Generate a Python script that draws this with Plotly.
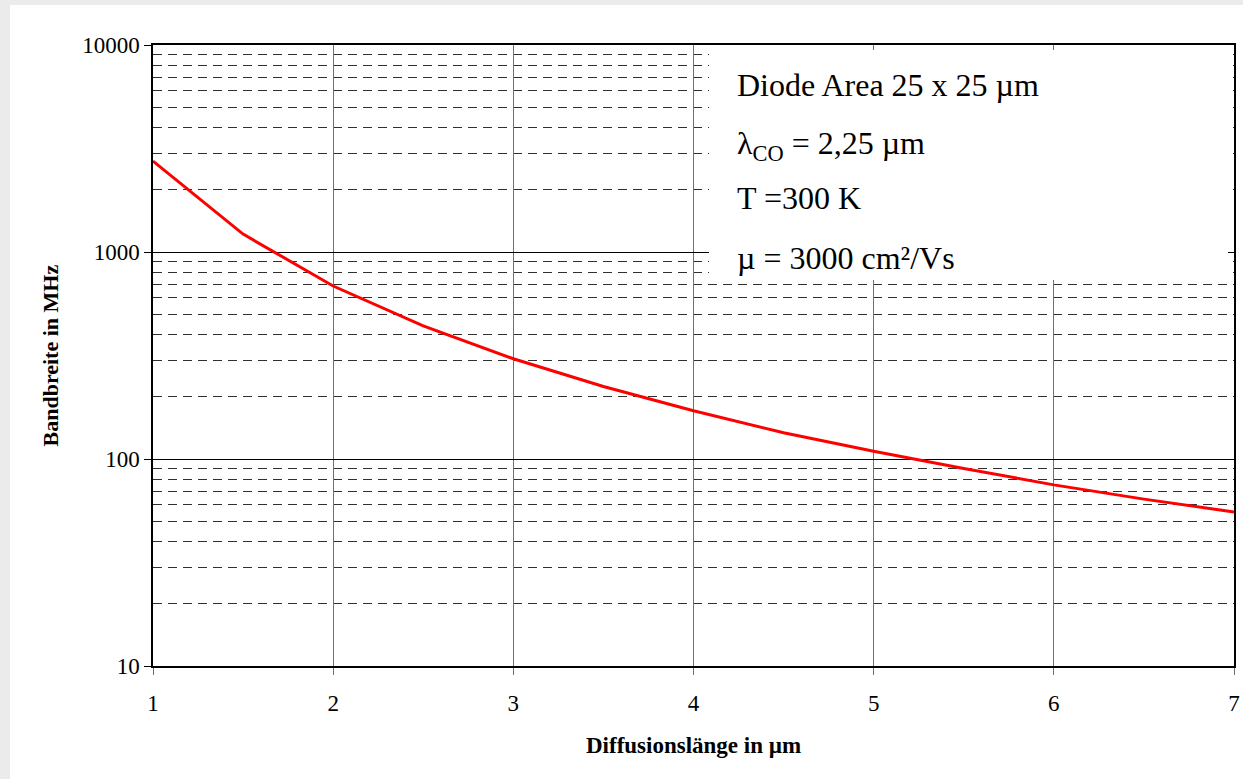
import plotly.graph_objects as go

# Data
diffusion_length = [1, 1.5, 2, 2.5, 3, 3.5, 4, 4.5, 5, 5.5, 6, 6.5, 7]
bandwidth_mhz = [2750, 1220, 685, 440, 305, 224, 171, 134, 109, 90, 75, 64, 55.5]

x_ticks = [1, 2, 3, 4, 5, 6, 7]
y_ticks = [10, 100, 1000, 10000]
y_tick_text = ["10", "100", "1000", "10000"]
y_minor = [m * d for d in (10, 100, 1000) for m in range(2, 10)]

x_title = "Diffusionslänge in µm"
y_title = "Bandbreite in MHz"
info_lines = [
    "Diode Area 25 x 25 µm",
    "λ<sub>CO</sub> = 2,25 µm",
    "T =300 K",
    "µ = 3000 cm²/Vs",
]

FONT = "Liberation Serif"

W, H = 1243, 779
L, R, T, B = 153, 1234, 45, 666


def px(xp):
    return (xp - L) / (R - L)


def py(yp):
    return (B - yp) / (B - T)


fig = go.Figure()
fig.add_trace(go.Scatter(
    x=diffusion_length, y=bandwidth_mhz, mode="lines",
    line=dict(color="#ff0000", width=3), showlegend=False,
))

fig.update_layout(
    width=W, height=H, autosize=False,
    margin=dict(l=L, r=W - R, t=T, b=H - B, pad=0, autoexpand=False),
    paper_bgcolor="#ebebeb",
    plot_bgcolor="white",
    font=dict(family=FONT, color="black", size=23),
    showlegend=False,
)

fig.update_xaxes(
    range=[1, 7], tickvals=x_ticks, automargin=False,
    showgrid=True, gridcolor="#707070", gridwidth=1,
    showline=True, linecolor="black", linewidth=1.5, mirror=True,
    ticks="outside", ticklen=7, tickcolor="#707070", tickwidth=1,
    tickfont=dict(family=FONT, size=23), ticklabelstandoff=9,
    zeroline=False,
)
fig.update_yaxes(
    type="log", range=[1, 4], tickvals=y_ticks, ticktext=y_tick_text,
    automargin=False,
    showgrid=True, gridcolor="black", gridwidth=1,
    showline=True, linecolor="black", linewidth=1.5, mirror=True,
    ticks="outside", ticklen=7, tickcolor="black", tickwidth=1,
    tickfont=dict(family=FONT, size=23),
    minor=dict(tickvals=y_minor, showgrid=True, gridcolor="#303030",
               gridwidth=1, griddash="9px,6px", ticks=""),
    zeroline=False,
)

# white page area (gray frame at top/left)
fig.add_shape(type="rect", xref="paper", yref="paper",
              x0=px(10), x1=px(1243 + 5), y0=py(779 + 5), y1=py(5),
              fillcolor="white", line=dict(width=0), layer="below")

# white text box covering gridlines
fig.add_shape(type="rect", xref="paper", yref="paper",
              x0=px(709), x1=px(1228), y0=py(280), y1=py(50),
              fillcolor="white", line=dict(width=0), layer="above")

line_y = [85, 146, 198, 258]
for txt, yp in zip(info_lines, line_y):
    fig.add_annotation(text=txt, xref="paper", yref="paper",
                       x=px(735), y=py(yp), xanchor="left", yanchor="middle",
                       showarrow=False, font=dict(family=FONT, size=32))

fig.add_annotation(text="<b>" + x_title + "</b>", xref="paper", yref="paper",
                   x=px((L + R) / 2), y=py(746), xanchor="center", yanchor="middle",
                   showarrow=False, font=dict(family=FONT, size=23))
fig.add_annotation(text="<b>" + y_title + "</b>", xref="paper", yref="paper",
                   x=px(50), y=py((T + B) / 2), xanchor="center", yanchor="middle",
                   textangle=-90, showarrow=False, font=dict(family=FONT, size=22))

fig.write_html("out.html",
               config=dict(displayModeBar=False, responsive=False),
               post_script="document.body.style.margin='0px';document.body.style.overflow='hidden';")
